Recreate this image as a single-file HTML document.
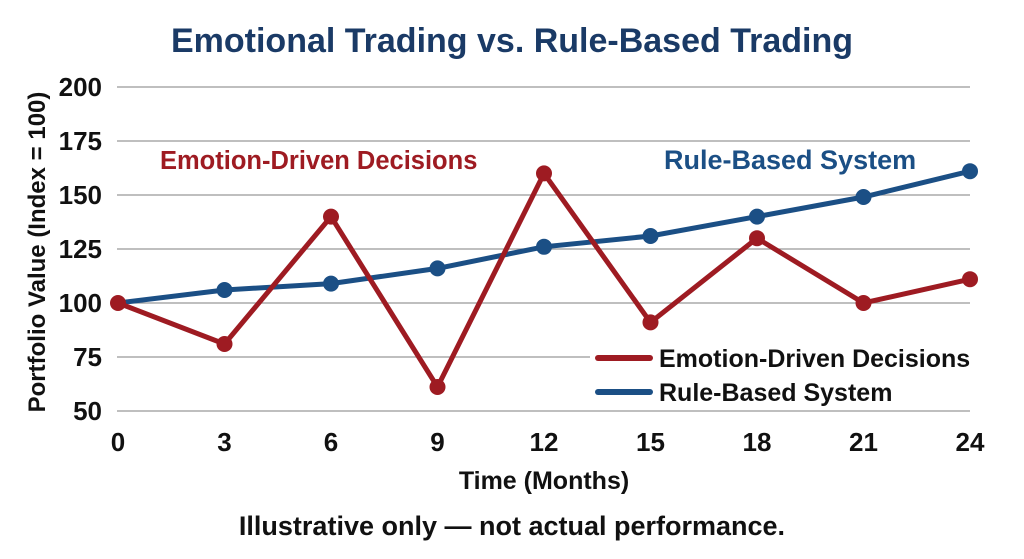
<!DOCTYPE html>
<html><head><meta charset="utf-8"><style>
body{margin:0;background:#fff;}
svg{display:block;font-family:"Liberation Sans",sans-serif;font-weight:bold;}
</style></head><body>
<svg width="1024" height="559" viewBox="0 0 1024 559">
<rect width="1024" height="559" fill="#fff"/>
<text x="512" y="52" text-anchor="middle" font-size="34" fill="#1a3a66">Emotional Trading vs. Rule-Based Trading</text>
<g stroke="#999" stroke-width="1.2">
<line x1="117" x2="970" y1="87" y2="87"/><line x1="117" x2="970" y1="141" y2="141"/>
<line x1="117" x2="970" y1="195" y2="195"/><line x1="117" x2="970" y1="249" y2="249"/>
<line x1="117" x2="970" y1="303" y2="303"/><line x1="117" x2="970" y1="357" y2="357"/>
<line x1="117" x2="970" y1="411" y2="411"/>
</g>
<g font-size="26" fill="#111" text-anchor="end">
<text x="102" y="96">200</text><text x="102" y="150">175</text><text x="102" y="204">150</text>
<text x="102" y="258">125</text><text x="102" y="312">100</text><text x="102" y="366">75</text><text x="102" y="420">50</text>
</g>
<g font-size="26" fill="#111" text-anchor="middle">
<text x="118" y="451">0</text><text x="224.5" y="451">3</text><text x="331" y="451">6</text><text x="437.5" y="451">9</text>
<text x="544" y="451">12</text><text x="650.5" y="451">15</text><text x="757" y="451">18</text><text x="863.5" y="451">21</text><text x="970" y="451">24</text>
</g>
<text x="544" y="489" text-anchor="middle" font-size="25" fill="#111">Time (Months)</text>
<text x="512" y="535" text-anchor="middle" font-size="27" fill="#111">Illustrative only — not actual performance.</text>
<text transform="translate(45,252) rotate(-90)" text-anchor="middle" font-size="24" fill="#111">Portfolio Value (Index = 100)</text>
<text x="160" y="169" font-size="25.5" fill="#9e1b22">Emotion-Driven Decisions</text>
<text x="664" y="169" font-size="27" fill="#1b4f85">Rule-Based System</text>
<polyline fill="none" stroke="#1b4f85" stroke-width="5" points="118,303 224.5,290 331,283.6 437.5,268.4 544,246.8 650.5,236 757,216.6 863.5,197 970,171.2"/>
<polyline fill="none" stroke="#9e1b22" stroke-width="5" points="118,303 224.5,344 331,216.6 437.5,387 544,173.4 650.5,322.4 757,238.2 863.5,303 970,279.2"/>
<g fill="#1b4f85"><circle cx="224.5" cy="290" r="8"/><circle cx="331" cy="283.6" r="8"/><circle cx="437.5" cy="268.4" r="8"/><circle cx="544" cy="246.8" r="8"/><circle cx="650.5" cy="236" r="8"/><circle cx="757" cy="216.6" r="8"/><circle cx="863.5" cy="197" r="8"/><circle cx="970" cy="171.2" r="8"/></g>
<g fill="#9e1b22"><circle cx="118" cy="303" r="8"/><circle cx="224.5" cy="344" r="8"/><circle cx="331" cy="216.6" r="8"/><circle cx="437.5" cy="387" r="8"/><circle cx="544" cy="173.4" r="8"/><circle cx="650.5" cy="322.4" r="8"/><circle cx="757" cy="238.2" r="8"/><circle cx="863.5" cy="303" r="8"/><circle cx="970" cy="279.2" r="8"/></g>
<rect x="590" y="340" width="390" height="68" fill="#fff"/>
<line x1="598" x2="650" y1="358" y2="358" stroke="#9e1b22" stroke-width="6" stroke-linecap="round"/>
<line x1="598" x2="650" y1="392" y2="392" stroke="#1b4f85" stroke-width="6" stroke-linecap="round"/>
<text x="659" y="367" font-size="25" fill="#111">Emotion-Driven Decisions</text>
<text x="659" y="401" font-size="25" fill="#111">Rule-Based System</text>
</svg>
</body></html>
